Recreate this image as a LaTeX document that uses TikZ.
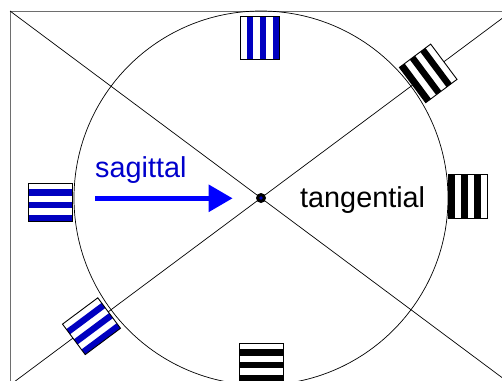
\documentclass[tikz,border=0pt]{standalone}
\usepackage{fontspec}
\setmainfont{Liberation Sans}
\usetikzlibrary{arrows.meta}
\definecolor{stripeblue}{RGB}{0,0,192}
\definecolor{textblue}{RGB}{0,0,204}
\definecolor{arrowblue}{RGB}{0,0,255}
\definecolor{framegray}{RGB}{110,110,110}
\tikzset{
  frameline/.style={draw=framegray, line width=1pt},
  guideline/.style={draw=black, line width=0.7pt},
  patchborder/.style={draw=black, line width=0.9pt},
  labeltext/.style={anchor=base west, font=\fontsize{28.8}{30}\selectfont, inner sep=0pt},
}
% vertical stripes: #1 centre, #2 rotation, #3 width, #4 height, #5 colour, #6 first coloured index
\newcommand\gratingv[6]{%
  \begin{scope}[shift={#1},rotate=#2]
    \fill[white] ({-#3/2},{-#4/2}) rectangle ({#3/2},{#4/2});
    \foreach \i in {0,2,4} {
      \fill[#5] ({-#3/2+(\i+#6)*#3/6},{-#4/2}) rectangle ++({#3/6},{#4});
    }
    \draw[patchborder] ({-#3/2},{-#4/2}) rectangle ({#3/2},{#4/2});
  \end{scope}}
% horizontal stripes
\newcommand\gratingh[6]{%
  \begin{scope}[shift={#1},rotate=#2]
    \fill[white] ({-#3/2},{-#4/2}) rectangle ({#3/2},{#4/2});
    \foreach \i in {0,2,4} {
      \fill[#5] ({-#3/2},{-#4/2+(\i+#6)*#4/6}) rectangle ++({#3},{#4/6});
    }
    \draw[patchborder] ({-#3/2},{-#4/2}) rectangle ({#3/2},{#4/2});
  \end{scope}}
\begin{document}
\begin{tikzpicture}[x=1pt,y=-1pt]
\useasboundingbox (0,0) rectangle (502,380);
\clip (0,0) rectangle (502,380);
\fill[white] (0,0) rectangle (502,380);
% frame corners and centre
\coordinate (TL) at (10,11);
\coordinate (TR) at (512,11);
\coordinate (BR) at (512,385);
\coordinate (BL) at (10,385);
\coordinate (O) at (261,198);
\draw[frameline] (TL) rectangle (BR);
\draw[guideline] (TL) -- (BR);
\draw[guideline] (TR) -- (BL);
\draw[guideline] (O) circle [radius=187pt];
% grating patches
\coordinate (gTop) at (259.5,37.5);
\coordinate (gRight) at (467.5,196);
\coordinate (gUR) at (428.2,73.4);
\coordinate (gLeft) at (50,202);
\coordinate (gLL) at (91.5,326.2);
\coordinate (gBot) at (261,362);
\gratingv{(gTop)}{0}{39}{43}{stripeblue}{1}
\gratingv{(gRight)}{0}{39}{44}{black}{0}
\gratingv{(gUR)}{36.7}{39}{44}{black}{0}
\gratingh{(gLeft)}{0}{44}{38}{stripeblue}{1}
\gratingh{(gLL)}{36.7}{44}{38}{stripeblue}{1}
\gratingh{(gBot)}{0}{44}{38}{black}{1}
% centre dot
\fill[black] (O) circle [radius=5pt];
\fill[stripeblue] (O) circle [radius=1.8pt];
% labels
\node[labeltext, text=textblue] (sag) at (95,177.3) {sagittal};
\node[labeltext, text=black] (tan) at (300,207.7) {tangential};
% arrow
\coordinate (aS) at (95,198.3);
\coordinate (aE) at (232.7,198.3);
\draw[arrowblue, line width=5.5pt, -{Triangle[length=24pt,width=26pt]}] (aS) -- (aE);
\end{tikzpicture}
\end{document}
